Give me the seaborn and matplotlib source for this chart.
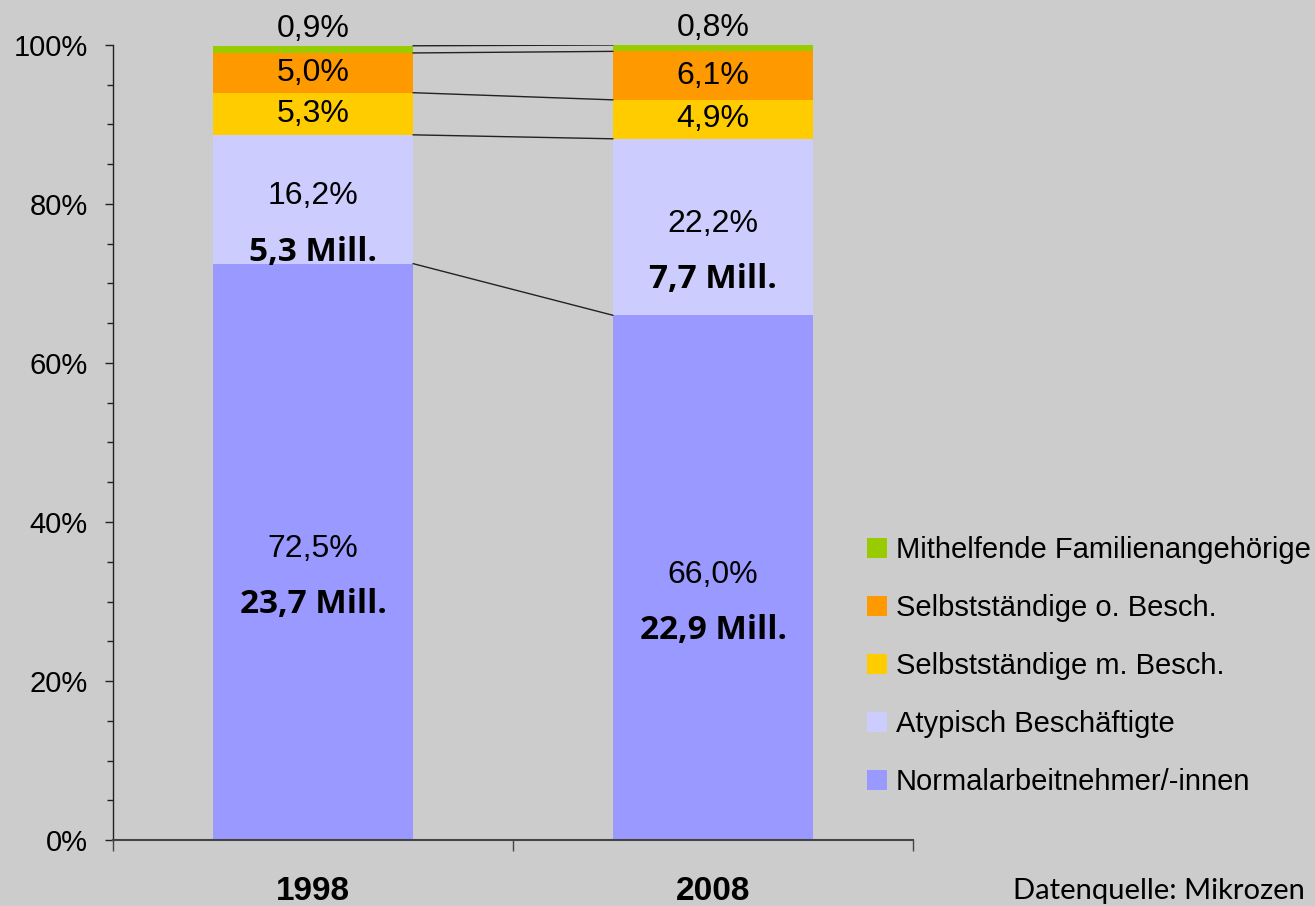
import pandas as pd
import numpy as np
import matplotlib
matplotlib.use('Agg')
import matplotlib.pyplot as plt
import seaborn as sns
from matplotlib.patches import Patch
from matplotlib.ticker import MultipleLocator, FixedLocator, FuncFormatter

years = ['1998', '2008']
categories = ['Normalarbeitnehmer/-innen', 'Atypisch Beschäftigte',
              'Selbstständige m. Besch.', 'Selbstständige o. Besch.',
              'Mithelfende Familienangehörige']
share_1998 = [72.5, 16.2, 5.3, 5.0, 0.9]
share_2008 = [66.0, 22.2, 4.9, 6.1, 0.8]
mill_1998 = [23.7, 5.3]
mill_2008 = [22.9, 7.7]
colors = ['#9999ff', '#ccccff', '#ffcc00', '#ff9900', '#99cc00']

sns.set_style('white')
plt.rcParams['font.family'] = ['Liberation Sans', 'DejaVu Sans']
plt.rcParams['text.color'] = 'black'
plt.rcParams['xtick.color'] = 'black'
plt.rcParams['ytick.color'] = 'black'
bg = '#cccccc'

rows = []
for year, shares in zip(years, [share_1998, share_2008]):
    cum = np.cumsum(shares)
    for cat, s, c in zip(categories, shares, cum):
        rows.append({'year': year, 'cat': cat, 'share': s, 'cum': c})
df = pd.DataFrame(rows)

fig = plt.figure(figsize=(13.15, 9.06), dpi=100, facecolor=bg)
ax = fig.add_axes([113 / 1315, 1 - 840 / 906, 800 / 1315, 795 / 906])
ax.set_facecolor(bg)

# stacked bars: draw cumulative totals, tallest first
for cat, col in reversed(list(zip(categories, colors))):
    sns.barplot(data=df[df['cat'] == cat], x='year', y='cum', order=years,
                color=col, saturation=1, width=0.5, linewidth=0, ax=ax)

# connector lines between the bars
cum98 = np.cumsum(share_1998)
cum08 = np.cumsum(share_2008)
for a, b in zip(cum98, cum08):
    ax.plot([0.25, 0.75], [a, b], color='#222222', lw=1, zorder=3)

# labels
for xi, (shares, mills) in enumerate([(share_1998, mill_1998), (share_2008, mill_2008)]):
    cum = np.cumsum(shares)
    bottoms = cum - np.array(shares)
    for i, s in enumerate(shares):
        txt = f'{s:.1f}'.replace('.', ',') + '%'
        mid = bottoms[i] + s / 2
        if s < 1:
            ax.annotate(txt, (xi, cum[i]), xytext=(0, 12), textcoords='offset points',
                        ha='center', va='center', fontsize=23, annotation_clip=False)
        elif i < len(mills):
            ax.annotate(txt, (xi, mid), xytext=(0, 2), textcoords='offset points',
                        ha='center', va='center', fontsize=23)
            mtxt = f'{mills[i]:.1f}'.replace('.', ',') + ' Mill.'
            ax.annotate(mtxt, (xi, mid), xytext=(0, -38), textcoords='offset points',
                        ha='center', va='center', fontsize=24, fontweight='bold',
                        family=['Open Sans', 'DejaVu Sans'])
        else:
            ax.annotate(txt, (xi, mid), ha='center', va='center', fontsize=23)

ax.set_ylim(0, 100)
ax.set_xlim(-0.5, 1.5)
ax.set_xlabel('')
ax.set_ylabel('')
ax.yaxis.set_major_locator(MultipleLocator(20))
ax.yaxis.set_minor_locator(MultipleLocator(5))
ax.yaxis.set_major_formatter(FuncFormatter(lambda v, p: f'{v:.0f}%'))
ax.tick_params(axis='y', which='major', direction='out', length=6, width=1,
               color='#222222', labelsize=21, pad=12, left=True)
ax.tick_params(axis='y', which='minor', direction='out', length=4, width=1,
               color='#222222', left=True)
ax.xaxis.set_minor_locator(FixedLocator([-0.5, 0.5, 1.5]))
ax.tick_params(axis='x', which='major', length=0, labelsize=24, pad=26)
ax.tick_params(axis='x', which='minor', direction='out', length=8, width=1,
               color='#444444', bottom=True)
for lab in ax.get_xticklabels():
    lab.set_fontweight('bold')

for side in ['top', 'right']:
    ax.spines[side].set_visible(False)
ax.spines['left'].set_color('#222222')
ax.spines['bottom'].set_color('#444444')
ax.spines['left'].set_linewidth(1)
ax.spines['bottom'].set_linewidth(1.5)

handles = [Patch(facecolor=c, edgecolor='none', label=l)
           for l, c in zip(categories, colors)][::-1]
fig.legend(handles=handles, loc='upper left',
           bbox_to_anchor=(867 / 1315, 1 - 536 / 906), frameon=False,
           fontsize=21, handlelength=0.68, handleheight=0.68,
           handletextpad=0.3, labelspacing=1.03, borderpad=0, borderaxespad=0)

fig.text(1013 / 1315, 1 - 899 / 906, 'Datenquelle: Mikrozen', ha='left',
         va='baseline', fontsize=21, family=['Lato', 'DejaVu Sans'])

fig.savefig('out.png', dpi=100, facecolor=bg)
